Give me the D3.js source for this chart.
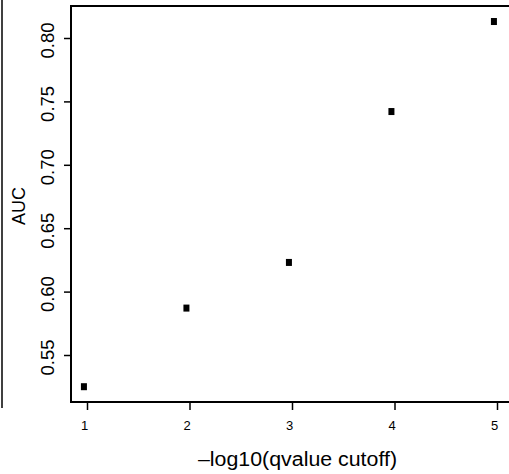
<!DOCTYPE html>
<html><head><meta charset="utf-8">
<script src="https://cdn.jsdelivr.net/npm/d3@7"></script>
<style>body{margin:0;background:#fff}svg{display:block}text{font-family:"Liberation Sans",Arial,sans-serif;fill:#000}</style>
</head><body>
<script>
const xValues = [0.97, 1.97, 2.97, 3.97, 4.97];
const aucValues = [0.525, 0.587, 0.623, 0.742, 0.813];
const xTicks = [1, 2, 3, 4, 5];
const yTicks = [0.55, 0.60, 0.65, 0.70, 0.75, 0.80];
const yTickLabels = ["0.55", "0.60", "0.65", "0.70", "0.75", "0.80"];
const xLabel = "\u2013log10(qvalue cutoff)";
const yLabel = "AUC";

(function () {
const W = 509, H = 474;
const svg = d3.select("body").append("svg").attr("width", W).attr("height", H);

const x = d3.scaleLinear().domain([1, 5]).range([87, 497]);
const y = d3.scaleLinear().domain([0.55, 0.80]).range([355, 38]);

const pLeft = 71, pTop = 6, pBottom = 402, pRight = 560;

// fragment of neighbouring panel
svg.append("line").attr("x1", 2).attr("x2", 2).attr("y1", 0).attr("y2", 408)
  .attr("stroke", "#000").attr("stroke-width", 1.5);

// plot box
svg.append("rect").attr("x", pLeft).attr("y", pTop).attr("width", pRight - pLeft).attr("height", pBottom - pTop)
  .attr("fill", "none").attr("stroke", "#000").attr("stroke-width", 2);

// y axis
const yAxis = d3.axisLeft(y).tickValues(yTicks).tickFormat((d, i) => yTickLabels[i]).tickSize(7).tickPadding(0);
const gy = svg.append("g").attr("transform", `translate(${pLeft},0)`).call(yAxis);
gy.select(".domain").remove();
gy.selectAll(".tick line").attr("stroke", "#000").attr("stroke-width", 1.5);
gy.selectAll(".tick text")
  .attr("x", null).attr("dy", null)
  .attr("transform", "translate(-17,2) rotate(-90)")
  .attr("text-anchor", "middle")
  .style("font-size", "18.5px")
  .attr("font-family", null);

// x axis
const xAxis = d3.axisBottom(x).tickValues(xTicks).tickFormat(d3.format("d")).tickSize(8).tickPadding(0);
const gx = svg.append("g").attr("transform", `translate(0,${pBottom})`).call(xAxis);
gx.select(".domain").remove();
gx.selectAll(".tick line").attr("stroke", "#000").attr("stroke-width", 1.5);
gx.selectAll(".tick text")
  .attr("y", 28).attr("dy", null).attr("x", -3)
  .style("font-size", "13px")
  .attr("font-family", null);

// points
svg.append("g").selectAll("rect").data(xValues.map((v, i) => [v, aucValues[i]])).join("rect")
  .attr("x", d => x(d[0]) - 3).attr("y", d => y(d[1]) - 3.5)
  .attr("width", 6).attr("height", 7).attr("fill", "#000");

// labels
svg.append("text").attr("x", 297.5).attr("y", 466).attr("text-anchor", "middle")
  .attr("textLength", 199).attr("lengthAdjust", "spacingAndGlyphs")
  .style("font-size", "20px").text(xLabel);
svg.append("text").attr("transform", `translate(25,206) rotate(-90)`).attr("text-anchor", "middle")
  .style("font-size", "18px").text(yLabel);
})();
</script>
</body></html>
